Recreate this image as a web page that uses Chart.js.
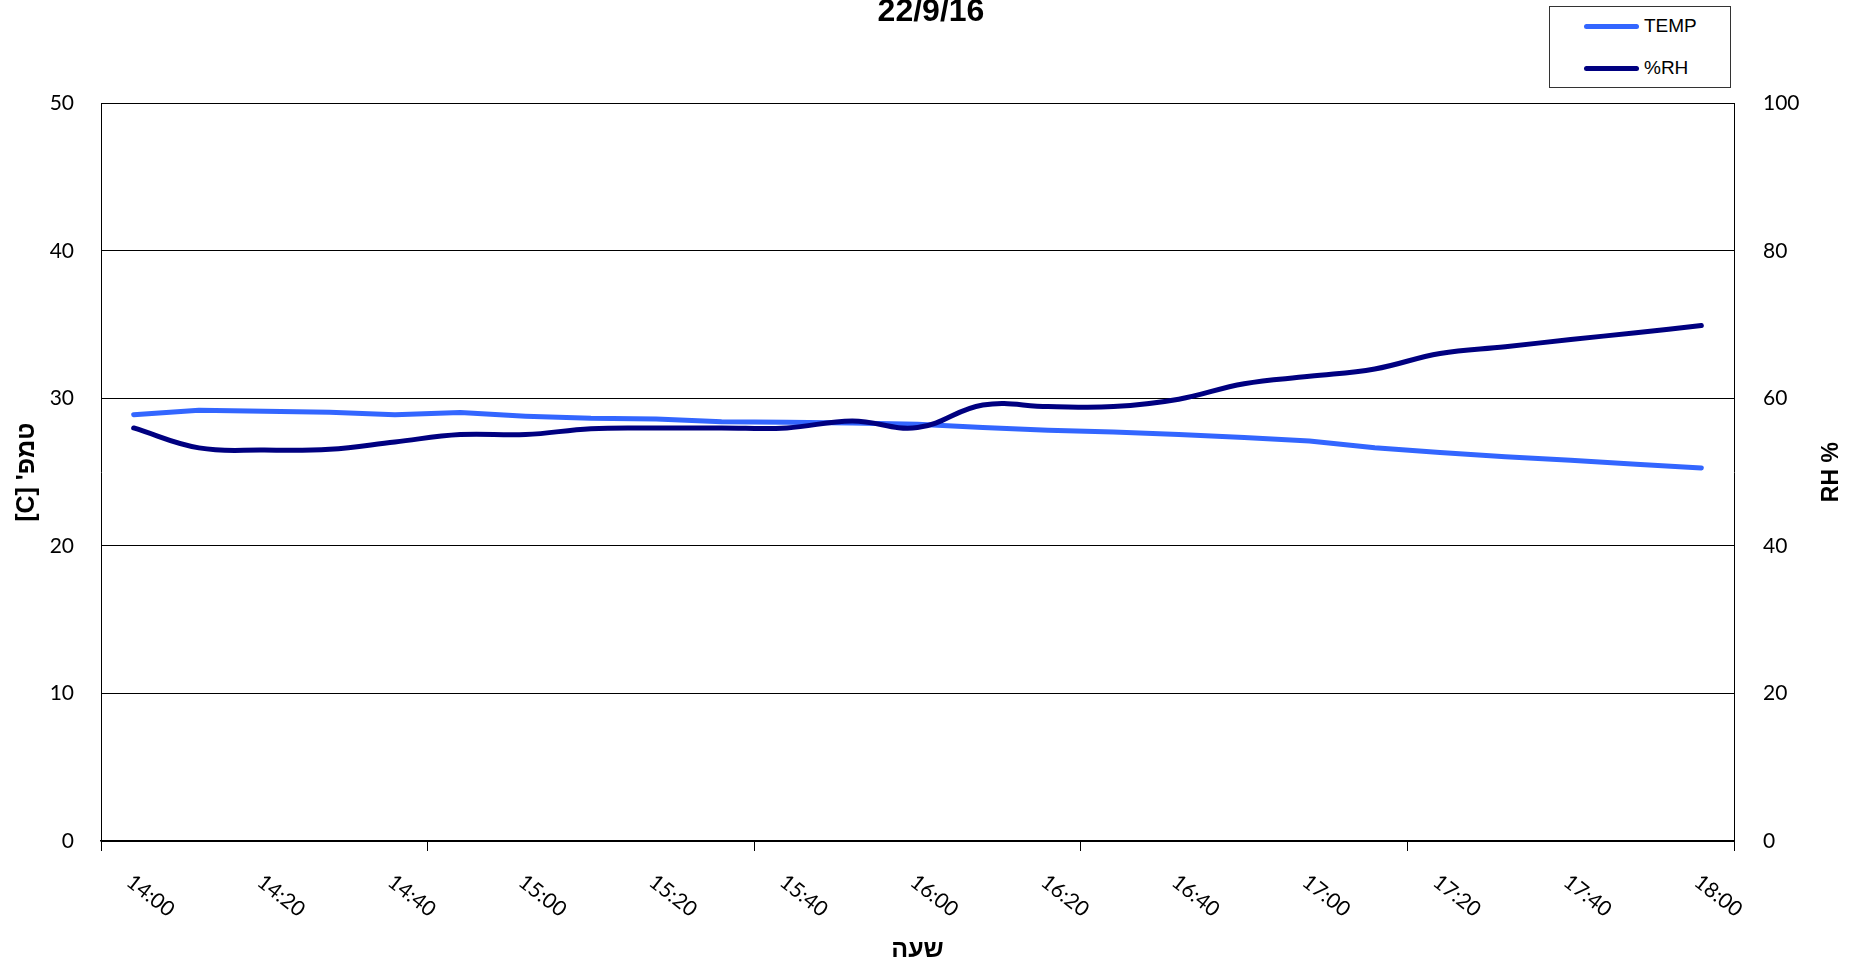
<!DOCTYPE html>
<html lang="he">
<head>
<meta charset="utf-8">
<title>22/9/16</title>
<script src="https://cdn.jsdelivr.net/npm/chart.js@4.4.1/dist/chart.umd.min.js"></script>
<style>
  body { margin: 0; background: #fff; }
  #wrap { position: relative; width: 1862px; height: 964px; }
  #legend {
    position: absolute; left: 1549px; top: 6px; width: 180px; height: 80px;
    border: 1px solid #333; background: #fff;
    font-family: "Liberation Sans", Arial, sans-serif; font-size: 19px; color: #000;
  }
  .item { position: absolute; left: 0; height: 24px; display: flex; align-items: center; direction: ltr; }
  .swatch { display: inline-block; width: 55px; height: 5px; border-radius: 3px; margin-left: 34px; margin-right: 5px; }
</style>
</head>
<body>
<div id="wrap">
  <canvas id="chart" width="1862" height="964" dir="rtl"></canvas>
  <div id="legend"></div>
</div>
<script>
// data, every 10 minutes
const times = ['14:00', '14:10', '14:20', '14:30', '14:40', '14:50', '15:00', '15:10', '15:20', '15:30',
  '15:40', '15:50', '16:00', '16:10', '16:20', '16:30', '16:40', '16:50', '17:00', '17:10',
  '17:20', '17:30', '17:40', '17:50', '18:00'];
const tempValues = [28.9, 29.2, 29.13, 29.07, 28.9, 29.04, 28.8, 28.65, 28.6, 28.42,
  28.38, 28.33, 28.25, 28.03, 27.85, 27.73, 27.55, 27.35, 27.12, 26.65,
  26.33, 26.04, 25.81, 25.54, 25.29];
const rhValues = [56.0, 53.3, 53.0, 53.1, 54.1, 55.1, 55.1, 55.9, 56.0, 56.0,
  56.0, 56.95, 56.05, 59.1, 58.9, 58.9, 59.9, 62.0, 63.0, 64.0,
  66.1, 67.0, 68.0, 68.9, 69.9];

const chartTitle = '22/9/16';
const xTitle = 'שעה';
const tempTitle = "טמפ' [C]";
const rhTitle = 'RH %';

// x labels (every 20 min, rotated the other way) and the right axis title
const extraText = {
  id: 'extraText',
  afterDraw(chart) {
    const ctx = chart.ctx;
    const xs = chart.scales.x;
    const area = chart.chartArea;
    ctx.save();
    ctx.direction = 'ltr';
    ctx.fillStyle = '#000';
    ctx.font = '21px Lato';
    ctx.textAlign = 'left';
    ctx.textBaseline = 'top';
    times.forEach((t, i) => {
      if (i % 2) return;
      const px = xs.getPixelForValue(i);
      ctx.save();
      ctx.translate(px + 2, area.bottom + 30);
      ctx.rotate(38 * Math.PI / 180);
      ctx.fillText(t, 0, 0);
      ctx.restore();
    });

    ctx.font = 'bold 23px "Liberation Sans"';
    ctx.textAlign = 'center';
    ctx.textBaseline = 'middle';
    ctx.translate(chart.width - 30, (area.top + area.bottom) / 2);
    ctx.rotate(-Math.PI / 2);
    ctx.fillText(rhTitle, 0, 0);
    ctx.restore();
  }
};

// html legend
const htmlLegend = {
  id: 'htmlLegend',
  afterUpdate(chart) {
    const box = document.getElementById('legend');
    box.innerHTML = '';
    chart.data.datasets.forEach((ds, i) => {
      const item = document.createElement('div');
      item.className = 'item';
      item.style.top = (7 + i * 42) + 'px';
      const sw = document.createElement('span');
      sw.className = 'swatch';
      sw.style.background = ds.borderColor;
      const txt = document.createElement('span');
      txt.textContent = ds.label;
      item.appendChild(sw);
      item.appendChild(txt);
      box.appendChild(item);
    });
  }
};

const tickFont = { family: 'Lato', size: 21 };

new Chart(document.getElementById('chart'), {
  type: 'line',
  data: {
    labels: times,
    datasets: [{
      label: 'TEMP',
      data: tempValues,
      yAxisID: 'y',
      borderColor: '#3366FF',
      backgroundColor: '#3366FF',
      borderWidth: 5,
      borderCapStyle: 'round',
      borderJoinStyle: 'round',
      tension: 0,
      pointRadius: 0,
      order: 2
    }, {
      label: '%RH',
      data: rhValues,
      yAxisID: 'y1',
      borderColor: '#000080',
      backgroundColor: '#000080',
      borderWidth: 5,
      borderCapStyle: 'round',
      borderJoinStyle: 'round',
      tension: 0.4,
      pointRadius: 0,
      order: 1
    }]
  },
  options: {
    responsive: false,
    animation: false,
    layout: { padding: 0 },
    plugins: {
      legend: { display: false },
      tooltip: { enabled: false },
      title: {
        display: true,
        text: chartTitle,
        color: '#000',
        font: { family: 'Liberation Sans', size: 32, weight: 'bold' },
        padding: { top: -7, bottom: 72 }
      }
    },
    scales: {
      x: {
        type: 'category',
        offset: true,
        afterFit(scale) { scale.height = 123; },
        ticks: { display: false, autoSkip: false },
        grid: {
          offset: true,
          drawOnChartArea: false,
          drawTicks: true,
          tickLength: 10,
          tickWidth: 1,
          tickColor: (c) => (c.index === undefined || c.index % 5 === 0) ? '#000' : 'rgba(0,0,0,0)'
        },
        border: { display: true, color: '#000', width: 1.5 },
        title: {
          display: true,
          text: xTitle,
          color: '#000',
          font: { family: 'Liberation Sans', size: 25, weight: 'bold' },
          padding: { top: 0, bottom: -1 }
        }
      },
      y: {
        position: 'left',
        min: 0,
        max: 50,
        afterFit(scale) { scale.width = 101; },
        ticks: { stepSize: 10, color: '#000', font: tickFont, padding: 27 },
        grid: { color: '#000', lineWidth: 1, drawTicks: false },
        border: { display: true, color: '#000', width: 1 },
        title: {
          display: true,
          text: tempTitle,
          color: '#000',
          font: { family: 'Liberation Sans', size: 25, weight: 'bold' },
          padding: { top: 12, bottom: 0 }
        }
      },
      y1: {
        position: 'right',
        min: 0,
        max: 100,
        afterFit(scale) { scale.width = 128; },
        ticks: { stepSize: 20, color: '#000', font: tickFont, padding: 29 },
        grid: { drawOnChartArea: false, drawTicks: false },
        border: { display: true, color: '#000', width: 1 }
      }
    }
  },
  plugins: [extraText, htmlLegend]
});
</script>
</body>
</html>
